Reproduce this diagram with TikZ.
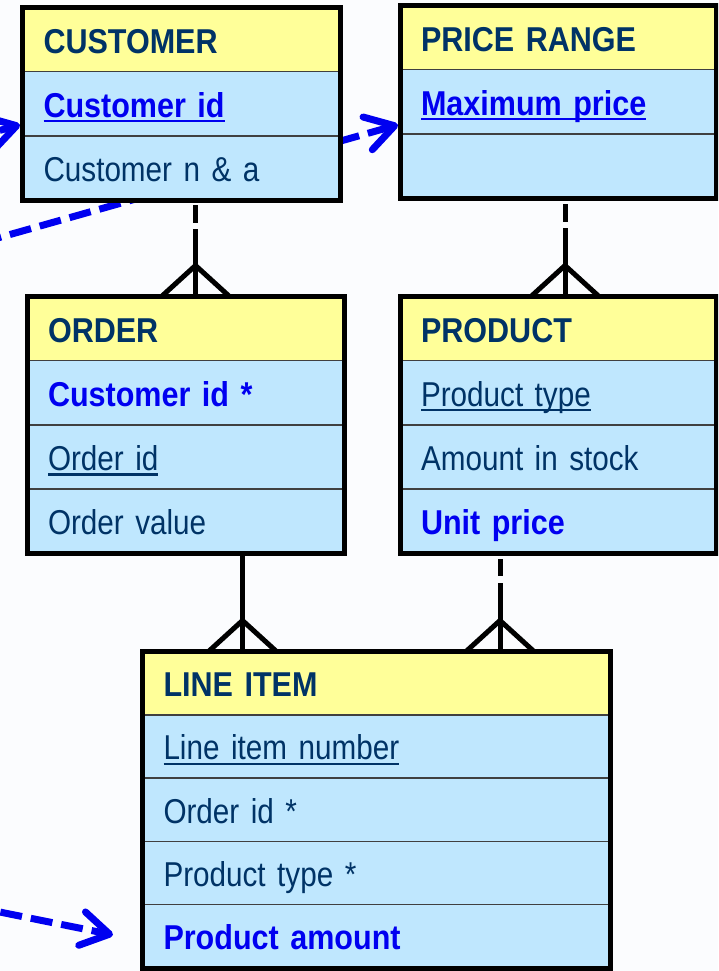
\documentclass[tikz,border=0pt]{standalone}
\usepackage{fontspec}
\setmainfont{Liberation Sans}[FakeStretch=0.86, BoldFeatures={FakeStretch=0.885}]
\usetikzlibrary{positioning,calc,arrows.meta}
\definecolor{hdryellow}{RGB}{255,255,153}
\definecolor{rowblue}{RGB}{191,231,254}
\definecolor{navy}{RGB}{0,51,102}
\definecolor{keyblue}{RGB}{0,0,240}
\definecolor{paper}{RGB}{251,252,254}
\newcommand{\ulx}[1]{\setbox0\hbox{#1}\rlap{\rule[-5pt]{\wd0}{2.4pt}}\box0}
\newcommand{\efont}{\fontsize{34.5pt}{40pt}\selectfont}

\begin{document}
\begin{tikzpicture}[x=1pt, y=-1pt,
      erow/.style={draw=black!75, line width=1.5pt, fill=rowblue, text=navy, outer sep=0pt,
        minimum height=64.2pt, inner xsep=21pt, inner ysep=0pt, text height=27pt, text depth=0pt,
        text width=#1, font=\efont},
      ehead/.style={erow=#1, fill=hdryellow, font=\efont\bfseries},
      keytxt/.style={text=keyblue, font=\efont\bfseries},
      eframe/.style={draw=black, line width=5pt},
      rel/.style={draw=black, line width=5pt},
      link/.style={draw=keyblue, line width=7pt, dash pattern=on 22pt off 9pt,
        -{Straight Barb[length=28pt, width=34pt, round]}}]

      \useasboundingbox (0,0) rectangle (718,971);
      \clip (0,0) rectangle (718,971);
      \fill[paper] (0,0) rectangle (718,971);

      % price range
      \node[ehead=274pt, anchor=north west] (pr) at (400,5.5) {PRICE RANGE};
      \node[erow=274pt, keytxt, below=0pt of pr] (pr2) {\ulx{Maximum price}};
      \node[erow=274pt, below=0pt of pr2] (pr3) {};

      % arrow passing behind customer
      \coordinate (lowL) at (-20,243);
      \draw[link] (lowL) -- ($(pr2.west)+(-2,23)$);

      % customer
      \node[ehead=276pt, anchor=north west] (cust) at (22.5,7.5) {CUSTOMER};
      \node[erow=276pt, keytxt, below=0pt of cust] (cust2) {\ulx{Customer id}};
      \node[erow=276pt, below=0pt of cust2] (cust3) {Customer n \& a};

      % order
      \node[ehead=275pt, anchor=north west] (ord) at (27,296.5) {ORDER};
      \node[erow=275pt, keytxt, below=0pt of ord] (ord2) {Customer id *};
      \node[erow=275pt, below=0pt of ord2] (ord3) {\ulx{Order id}};
      \node[erow=275pt, below=0pt of ord3] (ord4) {Order value};

      % product
      \node[ehead=274pt, anchor=north west] (prod) at (400,296.5) {PRODUCT};
      \node[erow=274pt, below=0pt of prod] (prod2) {\ulx{Product type}};
      \node[erow=274pt, below=0pt of prod2] (prod3) {Amount in stock};
      \node[erow=274pt, keytxt, below=0pt of prod3] (prod4) {Unit price};

      % line item
      \node[ehead=426pt, minimum height=63.3pt, anchor=north west] (li) at (142.5,651.5) {LINE ITEM};
      \node[erow=426pt, minimum height=63.3pt, below=0pt of li] (li2) {\ulx{Line item number}};
      \node[erow=426pt, minimum height=63.3pt, below=0pt of li2] (li3) {Order id *};
      \node[erow=426pt, minimum height=63.3pt, below=0pt of li3] (li4) {Product type *};
      \node[erow=426pt, minimum height=63.3pt, keytxt, below=0pt of li4] (li5) {Product amount};

      % relationships
      \coordinate (co) at (ord.north -| 195.5,0);
      \coordinate (cp) at (prod.north -| 565,0);
      \coordinate (cl) at (li.north -| 242.5,0);
      \coordinate (cm) at (li.north -| 500,0);
      \draw[rel, dash pattern=on 0pt off 5pt on 18pt off 6pt on 300pt] (cust3.south -| co) -- (co);
      \draw[rel, dash pattern=on 0pt off 6pt on 18pt off 6pt on 300pt] (pr3.south -| cp) -- (cp);
      \draw[rel] (ord4.south -| cl) -- (cl);
      \draw[rel, dash pattern=on 0pt off 6pt on 17pt off 7pt on 300pt] (prod4.south -| cm) -- (cm);
      \foreach \c in {co,cp,cl,cm}
        \draw[rel] ($(\c)+(-34,0)$) -- ($(\c)+(0,-31)$) -- ($(\c)+(34,0)$);

      % incoming arrows
      \coordinate (inC) at (-60,147);
      \coordinate (inL) at (-30,906);
      \draw[link] (inC) -- ($(cust2.west)+(-2.5,21)$);
      \draw[link] (inL) -- ($(li5.west)+(-29.5,-1.5)$);

      % frames
      \draw[eframe] (pr.north west) rectangle (pr3.south east);
      \draw[eframe] (cust.north west) rectangle (cust3.south east);
      \draw[eframe] (ord.north west) rectangle (ord4.south east);
      \draw[eframe] (prod.north west) rectangle (prod4.south east);
      \draw[eframe] (li.north west) rectangle (li5.south east);
    \end{tikzpicture}
\end{document}
